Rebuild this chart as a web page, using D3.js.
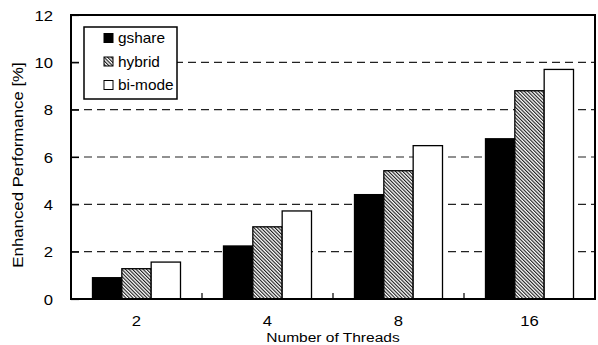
<!DOCTYPE html>
<html>
<head>
<meta charset="utf-8">
<script src="https://cdn.jsdelivr.net/npm/d3@7"></script>
<style>
  html, body { margin: 0; padding: 0; background: #fff; }
  svg { display: block; }
  text { font-family: "Liberation Sans", Arial, sans-serif; fill: #000; }
</style>
</head>
<body>
<svg id="chart" width="598" height="345"></svg>
<script>
// Thread counts on the x axis
const categories = ["2", "4", "8", "16"];
// Branch predictor series
const seriesNames = ["gshare", "hybrid", "bi-mode"];
// Enhanced performance [%] per predictor, one entry per thread count
const gshare = [0.90, 2.24, 4.41, 6.77];
const hybrid = [1.28, 3.05, 5.42, 8.80];
const bimode = [1.56, 3.72, 6.48, 9.70];
const yTicks = [0, 2, 4, 6, 8, 10, 12];

const seriesValues = [gshare, hybrid, bimode];

const svg = d3.select("#chart");
const m = { left: 71, right: 3, top: 15, bottom: 46 };
const W = 598, H = 345;
const x0 = m.left, x1 = W - m.right, y0 = H - m.bottom, y1 = m.top;

const x = d3.scaleBand().domain(categories).range([x0, x1]).paddingInner(0).paddingOuter(0);
const xs = d3.scaleBand().domain(seriesNames).range([0, x.bandwidth()]).paddingInner(0).paddingOuter(0.733);
const y = d3.scaleLinear().domain([0, 12]).range([y0, y1]);

// Diagonal hatch for the "hybrid" bars
const defs = svg.append("defs");
const pat = defs.append("pattern")
  .attr("id", "hatch")
  .attr("patternUnits", "userSpaceOnUse")
  .attr("width", 2.5).attr("height", 2.5)
  .attr("patternTransform", "rotate(-45)");
pat.append("rect").attr("width", 2.5).attr("height", 2.5).attr("fill", "#fff");
pat.append("line").attr("x1", 0.6).attr("y1", 0).attr("x2", 0.6).attr("y2", 2.5)
  .attr("stroke", "#000").attr("stroke-width", 1);

const fills = ["#000", "url(#hatch)", "#fff"];

// Dashed horizontal gridlines
svg.append("g").selectAll("line")
  .data(yTicks.filter(t => t > 0 && t < 12))
  .join("line")
  .attr("x1", x0).attr("x2", x1)
  .attr("y1", d => y(d)).attr("y2", d => y(d))
  .attr("stroke", "#222").attr("stroke-width", 1.1)
  .attr("stroke-dasharray", "8,5");

// Bars
const rows = categories.map((c, i) => ({ c, vals: seriesValues.map((s, k) => ({ name: seriesNames[k], k, v: s[i] })) }));
svg.append("g").selectAll("g")
  .data(rows)
  .join("g")
  .attr("transform", d => `translate(${x(d.c)},0)`)
  .selectAll("rect")
  .data(d => d.vals)
  .join("rect")
  .attr("x", d => xs(d.name))
  .attr("width", xs.bandwidth())
  .attr("y", d => y(d.v))
  .attr("height", d => y(0) - y(d.v))
  .attr("fill", d => fills[d.k])
  .attr("stroke", "#000").attr("stroke-width", 1.3);

// Frame
svg.append("rect")
  .attr("x", x0).attr("y", y1)
  .attr("width", x1 - x0).attr("height", y0 - y1)
  .attr("fill", "none").attr("stroke", "#000").attr("stroke-width", 2);

// Y axis: inward ticks, labels on the left
const yAxis = d3.axisLeft(y).tickValues(yTicks).tickSize(-8).tickPadding(18);
const gy = svg.append("g").attr("transform", `translate(${x0},0)`).call(yAxis);
gy.select(".domain").remove();
gy.selectAll(".tick line").attr("stroke", "#000").attr("stroke-width", 1.2);
gy.selectAll(".tick text")
  .attr("font-size", 14.5).attr("font-family", null)
  .attr("x", null).attr("dy", "0.36em")
  .attr("transform", "translate(-18,0) scale(1.15,1)")
  .attr("text-anchor", "end");

// X axis: tick marks between groups, labels at group centres
const gx = svg.append("g");
gx.selectAll("line")
  .data(categories.slice(1))
  .join("line")
  .attr("x1", d => x(d)).attr("x2", d => x(d))
  .attr("y1", y0).attr("y2", y0 - 6)
  .attr("stroke", "#000").attr("stroke-width", 1.2);
gx.selectAll("text")
  .data(categories)
  .join("text")
  .attr("transform", d => `translate(${x(d) + x.bandwidth() / 2},325.5) scale(1.15,1)`)
  .attr("text-anchor", "middle")
  .attr("font-size", 14.5)
  .text(d => d);

// Axis titles
svg.append("text")
  .attr("transform", `translate(${(x0 + x1) / 2},341.5) scale(1.15,1)`)
  .attr("text-anchor", "middle").attr("font-size", 13.5)
  .text("Number of Threads");
svg.append("text")
  .attr("transform", `translate(23,${(y0 + y1) / 2 + 8}) rotate(-90) scale(1.2,1)`)
  .attr("text-anchor", "middle").attr("font-size", 14)
  .text("Enhanced Performance [%]");

// Legend
const lg = svg.append("g");
lg.append("rect").attr("x", 84).attr("y", 27).attr("width", 93).attr("height", 72)
  .attr("fill", "#fff").attr("stroke", "#000").attr("stroke-width", 1.5);
const items = lg.selectAll("g.item")
  .data(seriesNames)
  .join("g").attr("class", "item")
  .attr("transform", (d, i) => `translate(104,${38 + i * 23.5})`);
items.append("rect")
  .attr("x", 0).attr("y", -4.5).attr("width", 9).attr("height", 9)
  .attr("fill", (d, i) => fills[i]).attr("stroke", "#000").attr("stroke-width", 1);
items.append("text")
  .attr("transform", "translate(14,5) scale(1.1,1)")
  .attr("font-size", 14)
  .text(d => d);
</script>
</body>
</html>
